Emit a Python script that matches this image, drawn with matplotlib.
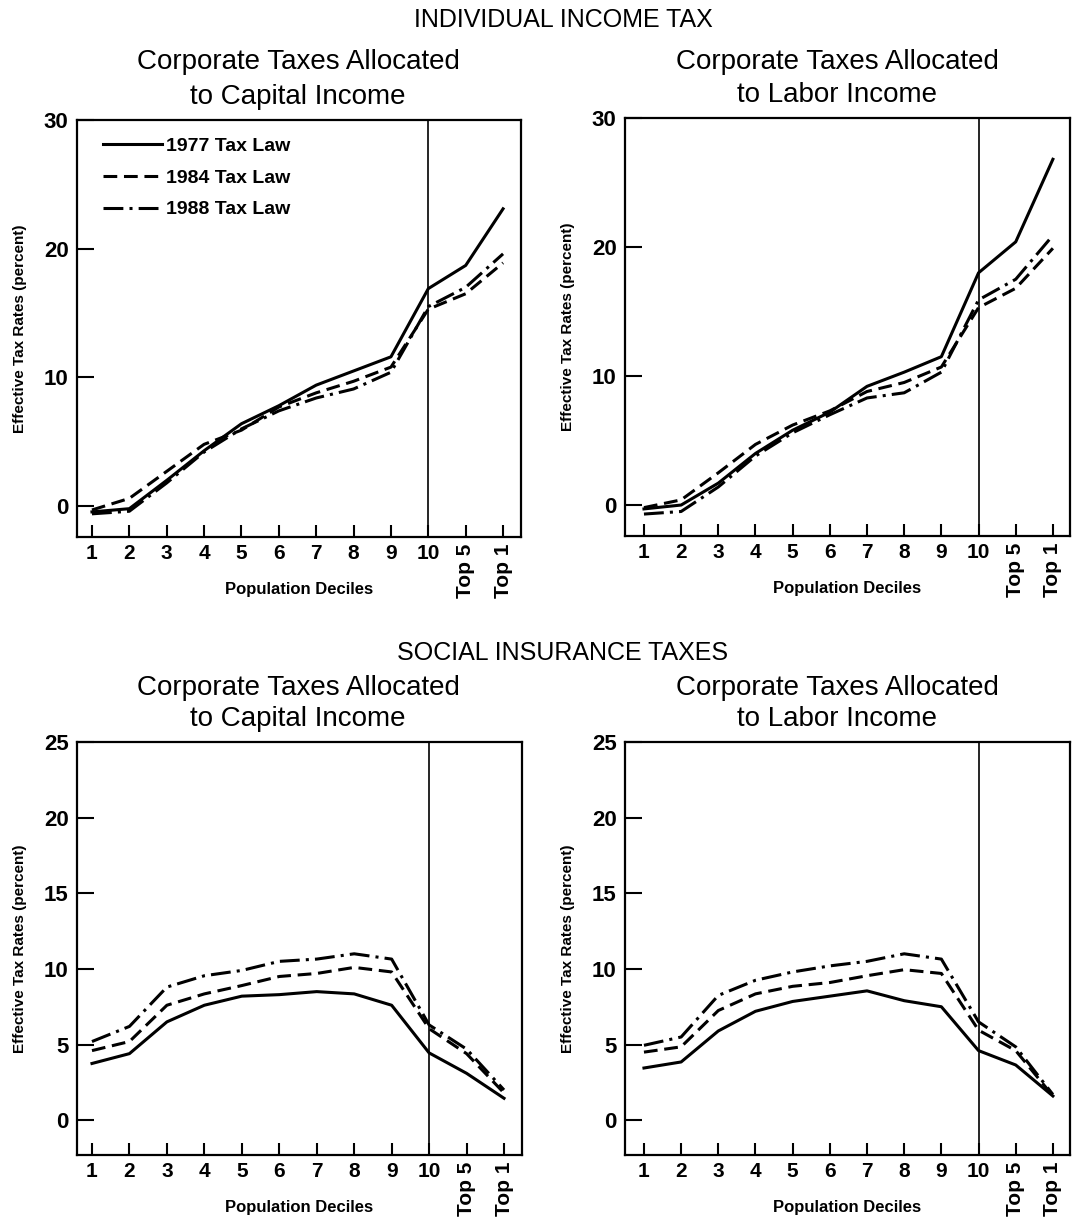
import matplotlib
matplotlib.use("Agg")
import matplotlib.pyplot as plt

# x categories: deciles 1-10 plus top 5% and top 1%
x_pos = list(range(1, 13))
x_labels = ["1", "2", "3", "4", "5", "6", "7", "8", "9", "10", "Top 5", "Top 1"]
laws = ["1977 Tax Law", "1984 Tax Law", "1988 Tax Law"]

# individual income tax, corporate taxes allocated to capital income
inc_cap_1977 = [-0.45, -0.2, 2.0, 4.3, 6.4, 7.8, 9.4, 10.5, 11.6, 16.9, 18.7, 23.1]
inc_cap_1984 = [-0.3, 0.6, 2.7, 4.8, 5.9, 7.7, 8.8, 9.7, 10.8, 15.3, 16.5, 18.9]
inc_cap_1988 = [-0.6, -0.4, 1.8, 4.2, 6.0, 7.4, 8.4, 9.1, 10.4, 15.5, 17.0, 19.6]

# individual income tax, corporate taxes allocated to labor income
inc_lab_1977 = [-0.3, 0.0, 1.7, 4.0, 5.8, 7.2, 9.2, 10.3, 11.5, 18.0, 20.4, 26.8]
inc_lab_1984 = [-0.2, 0.4, 2.5, 4.7, 6.2, 7.3, 8.8, 9.5, 10.7, 15.3, 16.8, 19.9]
inc_lab_1988 = [-0.7, -0.5, 1.4, 3.8, 5.6, 7.0, 8.3, 8.7, 10.3, 15.9, 17.5, 20.9]

# social insurance taxes, capital
soc_cap_1977 = [3.75, 4.4, 6.5, 7.6, 8.2, 8.3, 8.5, 8.35, 7.6, 4.45, 3.1, 1.45]
soc_cap_1984 = [4.6, 5.2, 7.6, 8.35, 8.9, 9.5, 9.7, 10.1, 9.8, 6.05, 4.4, 1.8]
soc_cap_1988 = [5.2, 6.2, 8.8, 9.55, 9.9, 10.5, 10.65, 11.0, 10.65, 6.3, 4.7, 2.0]

# social insurance taxes, labor
soc_lab_1977 = [3.45, 3.85, 5.9, 7.2, 7.85, 8.2, 8.55, 7.9, 7.5, 4.6, 3.65, 1.6]
soc_lab_1984 = [4.5, 4.85, 7.25, 8.35, 8.85, 9.1, 9.55, 9.95, 9.7, 5.95, 4.6, 1.6]
soc_lab_1988 = [4.95, 5.5, 8.25, 9.25, 9.8, 10.2, 10.5, 11.0, 10.65, 6.5, 4.85, 1.7]

plt.rcParams["font.family"] = ["Liberation Sans", "DejaVu Sans"]

W, H = 1073, 1219
fig = plt.figure(figsize=(W / 100, H / 100), dpi=100)

styles = [dict(ls="-"), dict(ls=(0, (4.5, 2.2))), dict(ls=(0, (6.5, 2.0, 1.0, 2.0)))]


def make_ax(x0, x1, y0, y1):
    # pixel box -> figure fraction
    return fig.add_axes([x0 / W, 1 - y1 / H, (x1 - x0) / W, (y1 - y0) / H])


def panel(ax, series, ymax, yticks, ymin, xmin, xmax, legend=False):
    for vals, st, lab in zip(series, styles, laws):
        ax.plot(x_pos, vals, color="black", lw=2.2, label=lab, **st)
    ax.axvline(10, color="black", lw=1.2)
    ax.set_xlim(xmin, xmax)
    ax.set_ylim(ymin, ymax)
    ax.set_yticks(yticks)
    ax.set_yticklabels([str(t) for t in yticks], fontsize=16, fontweight="bold")
    ax.set_xticks(x_pos)
    ax.set_xticklabels(x_labels, fontsize=15, fontweight="bold")
    for lbl in ax.get_xticklabels()[10:]:
        lbl.set_rotation(90)
        lbl.set_va("top")
    ax.tick_params(axis="y", direction="in", length=12, width=1.5, pad=6)
    ax.tick_params(axis="x", direction="in", length=9, width=1.5, pad=5)
    for s in ax.spines.values():
        s.set_linewidth(1.6)
    ax.set_ylabel("Effective Tax Rates (percent)", fontsize=11, fontweight="bold", labelpad=12)
    ax.set_xlabel("Population Deciles", fontsize=12, fontweight="bold", labelpad=-12)
    if legend:
        leg = ax.legend(loc="upper left", frameon=False, fontsize=14, handlelength=3.0,
                        handletextpad=0.2, labelspacing=0.72, borderaxespad=0.5,
                        bbox_to_anchor=(0.02, 1.0))
        for t in leg.get_texts():
            t.set_fontweight("bold")


ax1 = make_ax(77, 521, 120, 537)
panel(ax1, [inc_cap_1977, inc_cap_1984, inc_cap_1988], 30, [0, 10, 20, 30], -2.4, 0.6, 12.48, legend=True)
ax2 = make_ax(625, 1070, 118, 536)
panel(ax2, [inc_lab_1977, inc_lab_1984, inc_lab_1988], 30, [0, 10, 20, 30], -2.4, 0.49, 12.46)
ax3 = make_ax(77, 522, 742, 1155)
panel(ax3, [soc_cap_1977, soc_cap_1984, soc_cap_1988], 25, [0, 5, 10, 15, 20, 25], -2.3, 0.6, 12.48)
ax4 = make_ax(625, 1070, 742, 1155)
panel(ax4, [soc_lab_1977, soc_lab_1984, soc_lab_1988], 25, [0, 5, 10, 15, 20, 25], -2.3, 0.49, 12.46)


def ftext(x, y, s, size):
    fig.text(x / W, 1 - y / H, s, ha="center", va="center", fontsize=size)


ftext(563, 20, "INDIVIDUAL INCOME TAX", 18)
ftext(298, 62, "Corporate Taxes Allocated", 20)
ftext(298, 97, "to Capital Income", 20)
ftext(837, 62, "Corporate Taxes Allocated", 20)
ftext(837, 95, "to Labor Income", 20)
ftext(563, 653, "SOCIAL INSURANCE TAXES", 18)
ftext(298, 688, "Corporate Taxes Allocated", 20)
ftext(298, 719, "to Capital Income", 20)
ftext(837, 688, "Corporate Taxes Allocated", 20)
ftext(837, 719, "to Labor Income", 20)

fig.savefig("out.png", dpi=100)
